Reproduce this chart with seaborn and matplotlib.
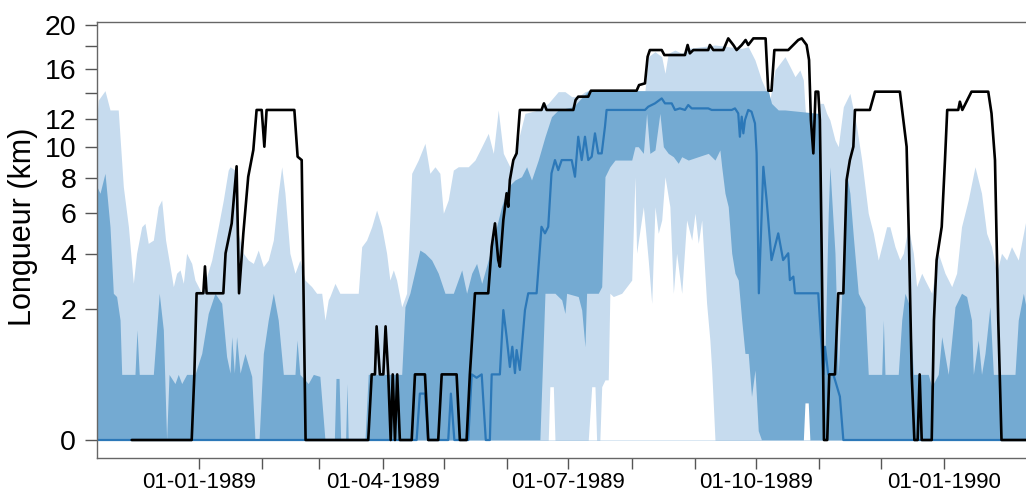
import numpy as np
import pandas as pd
import matplotlib
matplotlib.use("Agg")
import matplotlib.pyplot as plt
import seaborn as sns

# days counted from 12-11-1988, lengths in km
start = pd.Timestamp("1988-11-12")

# observed length (black)
obs_day = [17.0, 46.4, 47.7, 48.8, 52.1, 52.9, 53.7, 61.9, 63.0, 66.0, 68.4, 69.6, 71.7, 74.1, 76.6, 78.2, 80.7, 82.0, 83.1, 96.7, 98.3, 100.3, 102.2,
           132.9, 134.6, 136.2, 137.0, 138.6, 140.3, 141.4, 142.7, 143.9, 144.9, 146.0, 147.1, 148.4, 154.2, 155.8, 160.7, 162.3, 167.2, 168.9, 176.2, 177.8, 181.1, 182.7, 185.2, 191.7, 193.4, 195.0, 196.6, 197.4, 199.1, 200.7, 201.5, 202.3, 204.0, 205.6, 207.2, 217.8, 219.0, 220.3,
           233.4, 234.5, 235.8, 240.7, 242.0, 264.4, 265.6, 268.5, 269.8, 270.9, 276.7, 278.0, 288.1, 289.4, 290.5, 292.2, 299.5, 300.3, 302.0, 306.9, 309.3, 311.8, 313.4, 315.9, 317.8, 319.1, 321.6, 327.6, 328.9, 330.5, 331.9,
           338.7, 343.6, 345.3, 347.7, 348.9, 349.8, 351.0, 352.1, 353.4, 354.2, 355.1, 356.2, 357.8, 358.8, 361.6, 363.2, 365.7, 367.3, 368.9, 370.6, 371.4, 378.7, 381.2, 393.4, 395.1, 396.7, 397.8, 399.2, 400.5, 402.1, 403.1, 404.1, 409.0, 410.1, 411.4, 413.9, 415.5, 416.6, 422.0, 422.8, 424.0, 428.5, 436.7, 438.3, 440.0, 441.6, 443.2, 455.2]
obs_km = [0, 0, 0.5, 2.5, 2.5, 3.5, 2.5, 2.5, 4.05, 5.45, 8.7, 2.5, 4.96, 8.05, 9.77, 12.65, 12.65, 9.99, 12.65, 12.65, 9.32, 9.1, 0,
          0, 0.5, 0.5, 1.5, 0.5, 0.5, 1.5, 0.5, 0, 0.5, 0, 0.5, 0, 0, 0.5, 0.5, 0, 0, 0.5, 0.5, 0, 0, 0.5, 2.5, 2.5, 4.34, 5.45, 3.76, 3.49, 5.62, 7.07, 6.32, 7.85, 9.1, 9.54, 12.65, 12.65, 13.16, 12.65,
          12.65, 13.42, 13.69, 13.69, 14.17, 14.17, 14.63, 14.77, 17.06, 17.66, 17.66, 17.21, 17.21, 18.12, 17.36, 17.66, 17.66, 18.12, 17.66, 17.66, 18.73, 18.12, 17.66, 18.12, 18.58, 18.12, 18.73, 18.73, 14.17, 14.17, 17.66,
          17.66, 18.58, 18.73, 18.12, 16.77, 11.89, 9.54, 14.09, 14.09, 11.89, 4.05, 0, 0, 0.5, 0.5, 2.5, 2.5, 7.85, 9.1, 9.99, 12.65, 12.65, 14.09, 14.09, 11.89, 9.99, 4.8, 0.5, 0, 0, 0.5, 0, 0, 1.67, 3.76, 5.28, 9.1, 12.65, 12.65, 13.29, 12.65, 14.09, 14.09, 12.39, 9.1, 1.67, 0, 0]

# simulated median (blue line)
med_day = [0, 156.6, 158.2, 160.7, 162.3, 172.1, 173.4, 175.1, 181.9, 183.6, 186.0, 188.5, 190.5, 192.5, 193.4, 197.4, 199.1, 200.7, 202.3, 203.5, 204.8, 205.6, 207.2, 209.7, 211.3, 215.4, 217.8, 219.5, 221.1, 222.7,
           224.4, 226.0, 227.7, 232.6, 234.2, 235.8, 237.5, 239.1, 240.7, 242.4, 244.0, 245.6, 247.3, 248.9, 249.7, 268.5, 270.1, 273.4, 276.7, 278.3, 281.6, 283.2, 285.6, 288.1, 289.7, 291.4, 299.5, 301.2, 311.0, 312.6, 314.2, 315.0, 315.9, 316.7, 317.5, 319.1, 320.7, 322.4, 323.2, 324.3, 326.5, 328.1, 330.5, 333.8, 336.2,
           338.7, 339.5, 341.2, 342.0, 353.4, 354.2, 355.9, 356.7, 358.3, 360.8, 364.0, 365.7, 455.2]
med_km = [0, 0, 0.25, 0.25, 0, 0, 0.25, 0, 0, 0.5, 0.45, 0.5, 0, 0, 0.5, 0.5, 1.96, 1.24, 0.62, 1.01, 0.52, 0.94, 0.57, 1.96, 2.5, 2.5, 5.28, 4.96, 5.28, 8.26,
          9.1, 8.46, 9.1, 9.1, 8.05, 10.68, 9.1, 10.68, 9.1, 9.32, 10.92, 9.54, 9.54, 11.4, 12.65, 12.65, 12.9, 13.16, 13.55, 13.16, 13.16, 12.65, 12.77, 12.65, 13.03, 12.77, 12.77, 12.65, 12.65, 12.77, 12.39, 10.68, 12.14, 10.92, 11.89, 12.65, 12.52, 11.64, 9.54, 2.5, 8.67, 6.69, 3.76, 4.96, 3.76,
          4.05, 2.97, 3.1, 2.5, 2.5, 1.67, 0.5, 1.01, 0.5, 0.5, 0.22, 0, 0]

# outer band, upper limit
q95_day = [0, 0.65, 3.92, 6.37, 10.4, 12.9, 15.4, 17.8, 19.4, 21.9, 23.5, 25.1, 27.6, 30.0, 31.7, 33.6, 35.8, 37.4, 39.0, 40.7, 42.3, 43.9, 46.4, 48.0, 51.3, 56.2, 59.4, 61.9, 64.3, 65.2, 67.6, 69.2, 71.7, 74.1, 76.6, 79.0, 81.5, 83.9, 86.4, 88.8, 90.5, 92.1, 94.5, 97.0, 99.4, 101.9, 105.2, 107.6, 110.1, 111.7, 113.3,
           114.1, 116.6, 119.0, 128.0, 129.7, 132.1, 134.6, 137.0, 139.5, 141.9, 143.5, 145.2, 146.8, 149.3, 151.7, 154.2, 157.4, 160.7, 163.1, 165.6, 168.0, 169.7, 172.1, 174.6, 177.0, 181.9, 185.2, 188.5, 191.7, 194.2, 196.6, 199.1, 202.3, 205.6, 209.7, 216.2, 221.1, 226.0,
           229.3, 232.6, 235.8, 239.1, 240.7, 268.5, 270.1, 273.4, 276.7, 278.3, 279.9, 283.2, 286.5, 289.7, 296.3, 302.8, 309.3, 315.9, 319.1, 322.4, 325.6, 328.1, 329.7, 332.2,
           337.1, 340.4, 342.0, 344.4, 346.1, 346.9, 348.5, 350.2, 352.6, 354.2, 355.9, 357.5, 359.1, 361.6, 363.2, 365.7, 367.3, 368.9, 370.6, 372.2, 374.7, 376.3, 377.9, 380.4, 382.8, 385.3, 386.9, 388.5, 391.0, 393.4, 395.1, 397.5, 400.0, 401.6, 404.1, 405.7, 409.0, 412.2, 415.5, 418.8, 421.2, 423.6, 426.9, 430.2, 433.4, 435.9, 438.3, 440.8, 443.2, 445.7, 448.1, 451.4, 455.2]
q95_km = [12.14, 13.42, 14.17, 12.65, 12.65, 7.45, 5.28, 2.85, 4.05, 5.28, 5.45, 4.49, 4.64, 6.32, 6.69, 4.64, 3.49, 2.73, 3.23, 3.36, 2.85, 4.05, 3.62, 2.97, 2.5, 3.76, 5.28, 6.69, 8.46, 8.67, 8.46, 4.96, 4.05, 3.76, 3.62, 4.19, 3.49, 3.76, 4.64, 7.07, 8.67, 7.07, 4.05, 3.23, 3.76, 2.97, 2.73, 2.5, 2.5, 1.67, 2.28,
          2.39, 2.85, 2.5, 2.5, 4.34, 4.64, 5.28, 6.14, 5.28, 4.05, 2.97, 3.36, 2.97, 2.06, 2.5, 8.26, 9.1, 10.22, 8.26, 8.67, 8.26, 5.97, 6.69, 8.46, 8.67, 8.67, 9.1, 9.99, 10.92, 9.54, 12.65, 9.54, 8.67, 9.99, 12.39, 12.65, 13.16, 14.09,
          14.09, 13.69, 13.69, 14.09, 14.17, 14.17, 17.06, 17.51, 17.06, 15.61, 17.36, 17.66, 17.36, 17.81, 17.96, 18.12, 17.96, 17.81, 17.96, 16.77, 15.05, 14.09, 13.42, 15.9,
          17.06, 15.9, 15.33, 15.9, 15.05, 12.9, 9.99, 9.1, 9.1, 13.16, 13.16, 12.39, 11.89, 10.45, 9.99, 12.9, 13.42, 13.95, 12.65, 11.4, 9.1, 7.45, 5.97, 4.96, 3.76, 4.64, 5.28, 5.28, 4.34, 3.76, 4.05, 5.28, 4.05, 2.73, 3.23, 2.97, 2.5, 4.05, 3.23, 2.73, 3.23, 5.28, 6.69, 8.67, 7.07, 4.96, 4.34, 3.23, 4.05, 3.76, 4.34, 3.76, 5.62]

# inner band, upper limit
q75_day = [0, 1.47, 3.92, 6.37, 8.0, 9.6, 11.3, 12.1, 18.6, 19.6, 20.7, 27.6, 30.5, 32.5, 34.1, 35.3, 38.2, 39.8, 41.5, 43.9, 48.0, 51.3, 54.5, 57.8, 61.1, 63.5, 65.2, 66.0, 67.3, 68.4, 70.1, 72.5, 75.8, 77.4, 79.4, 81.5, 83.9, 86.4, 88.8, 91.3, 97.0, 98.0, 99.4, 103.5, 106.0, 109.2, 111.7,
           116.3, 117.1, 118.6, 119.4, 121.8, 122.5, 123.1, 131.3, 132.9, 149.3, 150.9, 153.3, 158.2, 160.7, 164.0, 167.2, 170.5, 174.6, 178.7, 181.1, 183.6, 186.0, 188.5, 191.7, 195.0, 198.2, 201.5, 204.8, 208.0, 210.5, 212.9, 216.2, 219.5, 222.7, 226.0,
           233.4, 240.7, 328.9, 330.5, 333.8,
           337.1, 353.4, 354.2, 355.1, 356.7, 358.3, 359.1, 361.6, 363.2, 364.9, 367.3, 368.9, 370.6, 373.0, 376.3, 377.9, 384.5, 385.3, 386.1, 392.6, 394.3, 395.9, 398.3, 400.0, 407.3, 409.0, 412.2, 413.9, 417.1, 418.8, 420.4, 423.6, 426.1, 428.5, 429.4, 431.8, 433.4, 435.1, 437.5, 439.2, 449.8, 451.4, 453.9, 455.2]
q75_km = [7.45, 7.07, 8.26, 5.28, 2.5, 2.39, 1.67, 0.5, 0.5, 1.41, 0.5, 0.5, 2.5, 1.41, 0, 0.5, 0.37, 0.5, 0.37, 0.5, 0.5, 0.87, 1.86, 2.5, 2.17, 0.81, 0.52, 1.24, 0.52, 1.24, 0.52, 0.87, 0.47, 0, 0, 0.87, 1.67, 2.5, 1.67, 0.5, 0.5, 1.16, 0.5, 0.37, 0.5, 0.47, 0,
          0, 0.44, 0.44, 0, 0, 0.37, 0, 0, 0.5, 0.5, 2.06, 2.5, 4.19, 4.05, 3.76, 3.23, 2.5, 2.5, 3.36, 2.5, 3.23, 3.62, 2.85, 3.76, 4.96, 6.32, 7.45, 7.85, 8.05, 8.67, 7.85, 9.1, 10.68, 12.14, 12.65,
          12.9, 14.17, 14.17, 13.16, 12.65,
          12.65, 12.39, 12.39, 1.0, 0.87, 5.97, 8.67, 4.05, 0.5, 2.5, 8.26, 7.07, 4.8, 2.5, 2.06, 0.5, 0.5, 1.67, 0.5, 0.5, 1.67, 2.5, 2.06, 0.5, 0.5, 0.33, 0.5, 1.24, 0.5, 1.16, 2.06, 2.5, 2.39, 1.67, 0.5, 1.16, 0.5, 0.87, 2.06, 0.5, 0.5, 1.67, 2.5, 2.06]

# inner band, lower limit
q25_day = [217.0, 219.5, 224.4, 227.7, 229.3, 230.1, 235.8, 237.5, 239.1, 239.9, 245.6, 247.3, 248.9, 251.3, 253.8, 262.0, 263.6, 265.2, 267.7, 269.3, 270.9, 273.4, 275.8, 277.5, 279.9, 282.4, 284.8, 286.5, 289.7, 294.6, 299.5, 302.8, 305.2, 306.1, 307.7, 309.3, 311.0, 312.6, 314.2, 315.9, 317.5, 319.1, 320.7, 322.4, 324.0, 325.6]
q25_km = [0, 2.5, 2.5, 2.28, 1.86, 2.5, 2.39, 1.96, 1.01, 2.5, 2.5, 2.73, 8.05, 8.67, 9.1, 9.1, 9.99, 9.99, 9.54, 12.39, 9.54, 9.77, 12.39, 9.99, 9.54, 9.32, 8.89, 9.32, 9.1, 9.32, 9.54, 9.1, 9.77, 8.67, 7.07, 6.32, 4.05, 3.23, 2.97, 1.67, 0.87, 0.87, 0.22, 0.57, 0.01, 0]

# outer band, lower limit
q05_day = [221.1, 221.9, 223.6, 224.4, 240.7, 242.4, 244.0, 244.8, 246.4, 247.3, 248.9, 250.5, 251.3, 253.0, 257.1, 262.0, 263.6, 264.4, 267.7, 270.1, 271.8, 273.4, 275.0, 276.7, 278.3, 280.7, 282.4, 284.0, 286.5, 288.9, 291.4, 293.0, 294.6, 296.3, 298.7, 300.3, 301.2, 302.8, 346.1, 346.9, 348.5, 349.3]
q05_km = [0, 0.33, 0.33, 0, 0, 0.33, 0.33, 0, 0, 0.33, 0.42, 0.42, 2.5, 2.39, 2.5, 2.97, 8.05, 4.05, 6.32, 3.76, 2.17, 6.32, 4.96, 5.62, 8.05, 6.32, 2.5, 4.05, 2.5, 5.62, 4.64, 5.97, 4.49, 5.62, 2.17, 1.16, 0.57, 0, 0, 0.16, 0.16, 0]

y_ticks = [0, 2, 4, 6, 8, 10, 12, 14, 16, 18, 20]
y_labels = ["0", "2", "4", "6", "8", "10", "12", "", "16", "", "20"]
x_labelled = ["1989-01-01", "1989-04-01", "1989-07-01", "1989-10-01", "1990-01-01"]

light = "#c6dbee"
dark = "#74aad2"
med_col = "#2c78b8"


def to_dates(days):
    return start + pd.to_timedelta(np.asarray(days), unit="D")


sns.set_theme(style="ticks")
plt.rcParams["font.family"] = ["Liberation Sans", "DejaVu Sans"]

fig = plt.figure(figsize=(10.26, 4.93), dpi=100)
ax = fig.add_axes([97 / 1026, 1 - 458 / 493, 929 / 1026, 436 / 493])

# square-root y axis
fwd = lambda v: np.sign(v) * np.sqrt(np.abs(v))
inv = lambda v: np.sign(v) * v ** 2
ax.set_yscale("function", functions=(fwd, inv))

# bands: paint outer, then inner, then cut out the lower limits
ax.fill_between(to_dates(q95_day), 0, q95_km, color=light, lw=0)
ax.fill_between(to_dates(q75_day), 0, q75_km, color=dark, lw=0)
ax.fill_between(to_dates(q25_day), 0, q25_km, color=light, lw=0)
ax.fill_between(to_dates(q05_day), 0, q05_km, color="white", lw=0)

sns.lineplot(x=to_dates(med_day), y=med_km, ax=ax, color=med_col, lw=1.6,
             estimator=None, sort=False)
sns.lineplot(x=to_dates(obs_day), y=obs_km, ax=ax, color="black", lw=1.9,
             estimator=None, sort=False)

ax.set_xlim(start, start + pd.Timedelta(days=455.2))
ax.set_ylim(-0.0376, 20.29)

ticks = pd.date_range("1989-01-01", "1990-01-01", freq="MS")
ax.set_xticks(ticks)
ax.set_xticklabels([t.strftime("%d-%m-%Y") if t.strftime("%Y-%m-%d") in x_labelled else ""
                    for t in ticks])
ax.set_yticks(y_ticks)
ax.set_yticklabels(y_labels)
ax.minorticks_off()

ax.tick_params(axis="x", length=8, width=1, color="#555555", pad=2,
               labelsize=16, labelcolor="black")
ax.tick_params(axis="y", length=9, width=1, color="#555555", pad=6,
               labelsize=20.5, labelcolor="black")
for side in ["left", "bottom", "top"]:
    ax.spines[side].set_visible(True)
    ax.spines[side].set_color("#666666")
    ax.spines[side].set_linewidth(1)
ax.spines["right"].set_visible(False)

ax.set_xlabel("")
ax.set_ylabel("Longueur (km)", fontsize=22, color="black")
ax.yaxis.set_label_coords(-0.063, 0.53)

fig.savefig("out.png", dpi=100)
